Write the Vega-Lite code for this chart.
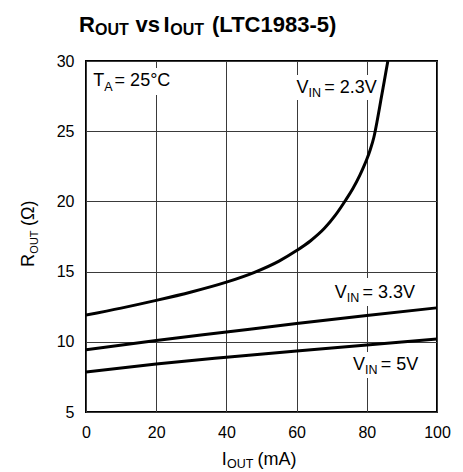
{
  "$schema": "https://vega.github.io/schema/vega-lite/v6.json",
  "width": 351,
  "height": 351,
  "autosize": {"type": "none"},
  "padding": {"left": 86, "top": 61, "right": 26, "bottom": 60},
  "background": "white",
  "config": {
    "view": {"stroke": "black", "strokeWidth": 2},
    "font": "Liberation Sans",
    "axis": {
      "domain": false,
      "ticks": false,
      "grid": true,
      "gridColor": "#3a3a3a",
      "gridWidth": 1,
      "labelFont": "Liberation Sans",
      "labelFontSize": 16,
      "labelColor": "black",
      "labelFlush": false,
      "title": null
    }
  },
  "datasets": {
    "curves": [
      {"vin": "2.3V", "x": 0, "y": 11.9},
      {"vin": "2.3V", "x": 10, "y": 12.4},
      {"vin": "2.3V", "x": 20, "y": 12.95},
      {"vin": "2.3V", "x": 30, "y": 13.55},
      {"vin": "2.3V", "x": 40, "y": 14.25},
      {"vin": "2.3V", "x": 48, "y": 14.95},
      {"vin": "2.3V", "x": 55, "y": 15.75},
      {"vin": "2.3V", "x": 60, "y": 16.5},
      {"vin": "2.3V", "x": 64, "y": 17.2},
      {"vin": "2.3V", "x": 68, "y": 18.1},
      {"vin": "2.3V", "x": 71, "y": 19.0},
      {"vin": "2.3V", "x": 74, "y": 20.1},
      {"vin": "2.3V", "x": 76, "y": 20.9},
      {"vin": "2.3V", "x": 78, "y": 21.85},
      {"vin": "2.3V", "x": 79, "y": 22.4},
      {"vin": "2.3V", "x": 80, "y": 23.0},
      {"vin": "2.3V", "x": 81, "y": 23.7},
      {"vin": "2.3V", "x": 82, "y": 24.55},
      {"vin": "2.3V", "x": 83, "y": 25.8},
      {"vin": "2.3V", "x": 84, "y": 27.2},
      {"vin": "2.3V", "x": 85, "y": 28.6},
      {"vin": "2.3V", "x": 86, "y": 30.0},
      {"vin": "3.3V", "x": 0, "y": 9.43},
      {"vin": "3.3V", "x": 20, "y": 10.1},
      {"vin": "3.3V", "x": 40, "y": 10.7},
      {"vin": "3.3V", "x": 60, "y": 11.3},
      {"vin": "3.3V", "x": 80, "y": 11.88},
      {"vin": "3.3V", "x": 100, "y": 12.42},
      {"vin": "5V", "x": 0, "y": 7.85},
      {"vin": "5V", "x": 20, "y": 8.42},
      {"vin": "5V", "x": 40, "y": 8.9},
      {"vin": "5V", "x": 60, "y": 9.35},
      {"vin": "5V", "x": 80, "y": 9.77},
      {"vin": "5V", "x": 100, "y": 10.2}
    ],
    "boxes": [
      {"x": 1.4, "x2": 24.6, "y": 27.58, "y2": 29.5},
      {"x": 59.4, "x2": 83.4, "y": 27.22, "y2": 29.0},
      {"x": 70.2, "x2": 93.5, "y": 12.55, "y2": 14.54},
      {"x": 75.3, "x2": 95.2, "y": 7.42, "y2": 9.27}
    ],
    "texts": [
      {"k": "lab", "x": 2.1, "y": 28.22, "t": "T"},
      {"k": "sub", "x": 5.2, "y": 27.88, "t": "A"},
      {"k": "lab", "x": 8.15, "y": 28.22, "t": "= 25°C"},
      {"k": "lab", "x": 60.0, "y": 27.74, "t": "V"},
      {"k": "sub", "x": 63.4, "y": 27.47, "t": "IN"},
      {"k": "lab", "x": 67.85, "y": 27.74, "t": "= 2.3V"},
      {"k": "lab", "x": 70.9, "y": 13.1, "t": "V"},
      {"k": "sub", "x": 74.3, "y": 12.83, "t": "IN"},
      {"k": "lab", "x": 78.75, "y": 13.1, "t": "= 3.3V"},
      {"k": "lab", "x": 76.1, "y": 7.99, "t": "V"},
      {"k": "sub", "x": 79.5, "y": 7.72, "t": "IN"},
      {"k": "lab", "x": 83.95, "y": 7.99, "t": "= 5V"},
      {"k": "lab", "x": 38.65, "y": 1.19, "t": "I"},
      {"k": "sub", "x": 40.2, "y": 0.98, "t": "OUT"},
      {"k": "lab", "x": 48.85, "y": 1.19, "t": "(mA)"},
      {"k": "yt", "x": -14.8, "y": 15.33, "t": "R"},
      {"k": "ytsub", "x": -13.55, "y": 16.28, "t": "OUT"},
      {"k": "yt", "x": -14.8, "y": 18.25, "t": "(Ω)"},
      {"k": "ttl", "x": -1.99, "y": 32.07, "t": "R"},
      {"k": "ttlsub", "x": 2.56, "y": 31.82, "t": "OUT"},
      {"k": "ttl", "x": 14.1, "y": 32.07, "t": "vs"},
      {"k": "ttl", "x": 22.1, "y": 32.07, "t": "I"},
      {"k": "ttlsub", "x": 24.0, "y": 31.82, "t": "OUT"},
      {"k": "ttl", "x": 35.9, "y": 32.07, "t": "(LTC1983-5)"}
    ]
  },
  "encoding": {
    "x": {
      "field": "x",
      "type": "quantitative",
      "scale": {"domain": [0, 100], "nice": false},
      "axis": {"values": [0, 20, 40, 60, 80, 100], "labelPadding": 12}
    },
    "y": {
      "field": "y",
      "type": "quantitative",
      "scale": {"domain": [5, 30], "nice": false},
      "axis": {"values": [5, 10, 15, 20, 25, 30], "labelPadding": 12}
    }
  },
  "layer": [
    {
      "data": {"name": "boxes"},
      "mark": {"type": "rect", "fill": "white", "strokeWidth": 0},
      "encoding": {"x2": {"field": "x2"}, "y2": {"field": "y2"}}
    },
    {
      "data": {"name": "curves"},
      "mark": {"type": "line", "color": "black", "strokeWidth": 3, "interpolate": "monotone", "clip": true},
      "encoding": {"detail": {"field": "vin", "type": "nominal"}}
    },
    {
      "data": {"name": "texts"},
      "transform": [{"filter": "datum.k === 'lab'"}],
      "mark": {"type": "text", "align": "left", "baseline": "alphabetic", "fontSize": 18, "font": "Liberation Sans", "color": "black"},
      "encoding": {"text": {"field": "t"}}
    },
    {
      "data": {"name": "texts"},
      "transform": [{"filter": "datum.k === 'sub'"}],
      "mark": {"type": "text", "align": "left", "baseline": "alphabetic", "fontSize": 12.5, "font": "Liberation Sans", "color": "black"},
      "encoding": {"text": {"field": "t"}}
    },
    {
      "data": {"name": "texts"},
      "transform": [{"filter": "datum.k === 'yt'"}],
      "mark": {"type": "text", "align": "left", "baseline": "alphabetic", "angle": 270, "fontSize": 18, "font": "Liberation Sans", "color": "black"},
      "encoding": {"text": {"field": "t"}}
    },
    {
      "data": {"name": "texts"},
      "transform": [{"filter": "datum.k === 'ytsub'"}],
      "mark": {"type": "text", "align": "left", "baseline": "alphabetic", "angle": 270, "fontSize": 11, "font": "Liberation Sans", "color": "black"},
      "encoding": {"text": {"field": "t"}}
    },
    {
      "data": {"name": "texts"},
      "transform": [{"filter": "datum.k === 'ttl'"}],
      "mark": {"type": "text", "align": "left", "baseline": "alphabetic", "fontSize": 22, "fontWeight": "bold", "font": "Liberation Sans", "color": "black"},
      "encoding": {"text": {"field": "t"}}
    },
    {
      "data": {"name": "texts"},
      "transform": [{"filter": "datum.k === 'ttlsub'"}],
      "mark": {"type": "text", "align": "left", "baseline": "alphabetic", "fontSize": 16, "fontWeight": "bold", "font": "Liberation Sans", "color": "black"},
      "encoding": {"text": {"field": "t"}}
    }
  ]
}
